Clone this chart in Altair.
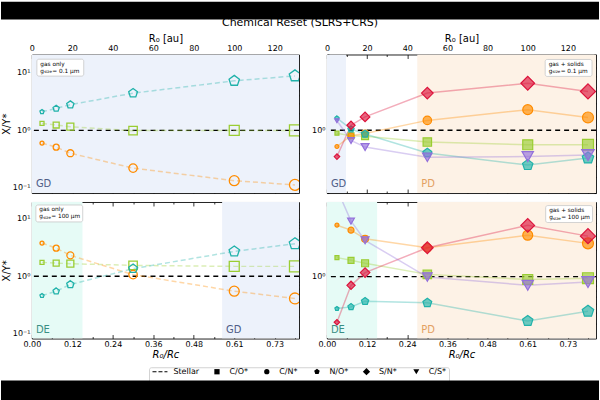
import altair as alt
import pandas as pd

# radial positions of the sampled parcels [au] and the critical radius
R0_AU = [5, 12, 19, 50, 100, 130]
RC_AU = 165
MARKER_AREA = [16, 36, 49, 72, 100, 121]

SPECIES = ["C/O*", "C/N*", "N/O*", "S/N*", "C/S*"]
COLORS = ["#9acd32", "#ff8c00", "#20b2aa", "#dc143c", "#9370db"]
PENTAGON = "M0,-1L0.951,-0.309L0.588,0.809L-0.588,0.809L-0.951,-0.309Z"
SHAPES = ["square", "circle", PENTAGON, "diamond", "triangle-down"]
AREA_FACTOR = [1.0, 1.0, 1.2, 1.9, 1.3]

# gas only, grain size 0.1 um
gas_small_CO = [1.32, 1.24, 1.16, 0.99, 1.0, 1.0]
gas_small_CN = [0.60, 0.51, 0.40, 0.22, 0.133, 0.112]
gas_small_NO = [2.11, 2.41, 2.8, 4.45, 7.3, 8.9]

# gas + solids, grain size 0.1 um
sol_small_CO = [0.93, 0.87, 0.86, 0.74, 0.69, 0.69]
sol_small_CN = [0.66, 0.87, 0.92, 1.29, 1.70, 1.39]
sol_small_NO = [1.37, 1.03, 0.91, 0.56, 0.41, 0.49]
sol_small_SN = [0.51, 1.14, 1.41, 2.6, 3.35, 2.71]
sol_small_CS = [1.28, 0.77, 0.65, 0.50, 0.51, 0.53]

# gas only, grain size 100 um
gas_big_CO = [1.75, 1.70, 1.66, 1.55, 1.49, 1.49]
gas_big_CN = [3.8, 3.1, 2.32, 1.07, 0.55, 0.41]
gas_big_NO = [0.46, 0.55, 0.72, 1.36, 2.72, 3.7]

# gas + solids, grain size 100 um
sol_big_CO = [1.63, 1.52, 1.41, 1.06, 0.93, 0.96]
sol_big_CN = [3.75, 3.3, 2.64, 2.1, 2.9, 2.35]
sol_big_NO = [0.44, 0.46, 0.53, 0.51, 0.32, 0.41]
sol_big_SN = [0.31, 0.80, 1.11, 2.1, 3.73, 2.83]
sol_big_CS = [9.5, 4.16, 2.54, 0.99, 0.80, 0.87]

# shaded regimes: (start au, end au, label)
REGION_FILL = {"GD": "#edf2fb", "DE": "#e6fbf6", "PD": "#fdf2e6"}
REGION_TEXT = {"GD": "#4f5d87", "DE": "#3a8f84", "PD": "#e3a062"}
regions_tl = [(0, 140, "GD")]
regions_tr = [(0, 9.5, "GD"), (45, 140, "PD")]
regions_bl = [(0, 25, "DE"), (94, 140, "GD")]
regions_br = [(0, 25, "DE"), (45, 140, "PD")]

FONT = "DejaVu Sans"
ONE = pd.DataFrame({"ax": [10.0], "ay": [1.0]})


def ratio_table(series):
    rows = []
    for sp, vals in series.items():
        k = SPECIES.index(sp)
        for r, v, a in zip(R0_AU, vals, MARKER_AREA):
            rows.append({"R0": r, "ratio": v, "species": sp, "area": a * AREA_FACTOR[k]})
    return pd.DataFrame(rows)


def axis(orient, values, tick, labels, title=None, expr=None, italic=False):
    kw = dict(orient=orient, values=values, tickSize=tick, offset=-tick, domain=False,
              grid=False, ticks=True, tickColor="black", tickWidth=0.8, labels=labels,
              labelFont=FONT, labelFontSize=8, labelColor="black", labelPadding=2,
              labelFlush=False, labelOverlap=False, title=title)
    if expr:
        kw["labelExpr"] = expr
    if title:
        kw.update(titleFont=FONT, titleFontSize=10, titleFontWeight="normal",
                  titleColor="black", titlePadding=1)
        if italic:
            kw["titleFontStyle"] = "italic"
    return alt.Axis(**kw)


def pixel_text(text, x, y, size, **kw):
    return alt.Chart(ONE).mark_text(text=text, fontSize=size, font=FONT, **kw).encode(
        x=alt.value(x), y=alt.value(y))


def pixel_rect(x0, x1, y0, y1, **kw):
    return alt.Chart(ONE).mark_rect(**kw).encode(
        x=alt.value(x0), x2=alt.value(x1), y=alt.value(y0), y2=alt.value(y1))


def note(x0, y0, head, grain):
    parts = [
        pixel_rect(x0, x0 + 47, y0, y0 + 17, fill="white", stroke="#c8c8c8",
                   strokeWidth=0.8, cornerRadius=2),
        pixel_text(head, x0 + 3.5, y0 + 4.5, 5.8, align="left", baseline="middle", color="black"),
        pixel_text("g", x0 + 3.5, y0 + 11.5, 5.8, align="left", baseline="middle", color="black"),
        pixel_text("size", x0 + 7.3, y0 + 13, 4.0, align="left", baseline="middle", color="black"),
        pixel_text("= " + grain, x0 + 15.5, y0 + 11.5, 5.8, align="left", baseline="middle",
                   color="black"),
    ]
    return parts


def panel(series, solids, xmax, ydom, width, height, top, left, regions, head, grain, extra=()):
    df = ratio_table(series)
    xsc = alt.Scale(domain=[0, xmax], nice=False, zero=False)
    ysc = alt.Scale(type="log", domain=ydom, nice=False)
    csc = alt.Scale(domain=SPECIES, range=COLORS)
    ssc = alt.Scale(domain=SPECIES, range=SHAPES)

    reg = pd.DataFrame([{"start": a, "end": b, "tag": t, "fill": REGION_FILL[t],
                         "ink": REGION_TEXT[t]} for a, b, t in regions])

    bg = alt.Chart(reg).mark_rect(clip=True).encode(
        x=alt.X("start:Q", scale=xsc, axis=None), x2="end:Q",
        y=alt.value(0), y2=alt.value(height),
        color=alt.Color("fill:N", scale=None))

    tags = alt.Chart(reg).mark_text(align="left", baseline="middle", fontSize=10, dx=4,
                                    font=FONT).encode(
        x=alt.X("start:Q", scale=xsc, axis=None), y=alt.value(height - 9),
        text="tag:N", color=alt.Color("ink:N", scale=None))

    stellar = alt.Chart(ONE).mark_rule(color="black", strokeDash=[5, 4], strokeWidth=1.4).encode(
        y=alt.YDatum(1.0, scale=ysc, axis=None))

    line_kw = dict(strokeWidth=1.5, opacity=0.35, clip=True)
    if not solids:
        line_kw["strokeDash"] = [5, 3]
    lines = alt.Chart(df).mark_line(**line_kw).encode(
        x=alt.X("R0:Q", scale=xsc, axis=None),
        y=alt.Y("ratio:Q", scale=ysc, axis=None),
        color=alt.Color("species:N", scale=csc, legend=None),
        detail="species:N", order="R0:Q")

    if solids:
        pts = alt.Chart(df).mark_point(filled=True, opacity=1, fillOpacity=0.65, strokeOpacity=1,
                                       strokeWidth=1.2, clip=True).encode(
            fill=alt.Fill("species:N", scale=csc, legend=None),
            stroke=alt.Stroke("species:N", scale=csc, legend=None),
            x=alt.X("R0:Q", scale=xsc, axis=None),
            y=alt.Y("ratio:Q", scale=ysc, axis=None),
            shape=alt.Shape("species:N", scale=ssc, legend=None),
            size=alt.Size("area:Q", scale=None, legend=None))
    else:
        pts = alt.Chart(df).mark_point(filled=False, opacity=1, strokeWidth=1.3, clip=True).encode(
            color=alt.Color("species:N", scale=csc, legend=None),
            x=alt.X("R0:Q", scale=xsc, axis=None),
            y=alt.Y("ratio:Q", scale=ysc, axis=None),
            shape=alt.Shape("species:N", scale=ssc, legend=None),
            size=alt.Size("area:Q", scale=None, legend=None))

    lo, hi = ydom
    decades = [v for v in [0.1, 1, 10] if lo <= v <= hi]
    minors = [v for v in [0.09] + [i / 10 for i in range(2, 10)] + list(range(2, 10)) + [20]
              if lo <= v <= hi]
    xmaj = [v for v in range(0, 121, 20) if v <= xmax]
    xmin = [v for v in range(10, 140, 20) if v <= xmax]
    yexpr = "datum.value >= 9 ? '10¹' : datum.value >= 0.9 ? '10⁰' : '10⁻¹'"
    xexpr = "format(datum.value / %d, '.2f')" % RC_AU

    def axis_layer(xa, ya):
        return alt.Chart(ONE).mark_point(opacity=0).encode(
            x=alt.X("ax:Q", scale=xsc, axis=xa), y=alt.Y("ay:Q", scale=ysc, axis=ya))

    axes = [
        axis_layer(axis("top", xmaj, 4, top, "R₀ [au]" if top else None),
                   axis("left", decades, 4, True, "X/Y*" if left else None, yexpr)),
        axis_layer(axis("top", xmin, 2, False), axis("left", minors, 2, False)),
        axis_layer(axis("bottom", xmaj, 4, not top, None if top else "R₀/Rc", xexpr, italic=True),
                   axis("right", decades, 4, False)),
        axis_layer(axis("bottom", xmin, 2, False), axis("right", minors, 2, False)),
    ]

    layers = [bg, stellar, lines, pts, tags] + note(*head) if False else None
    layers = [bg, tags, stellar, lines, pts] + note(head[0], head[1], head[2], grain) + list(extra) + axes
    return alt.layer(*layers).resolve_axis(x="independent", y="independent").properties(
        width=width, height=height)


# figure title with the page-edge band above it (drawn in the top-left panel frame)
title_parts = [
    pixel_text("Chemical Reset (SLRS+CRS)", 269, -29, 11, align="center", baseline="alphabetic",
               color="black"),
    pixel_rect(-31, 569, -53, -35, fill="black"),
]

# legend row and lower band (drawn in the bottom-left panel frame)
LEG_Y = 170.3
legend_parts = [
    pixel_rect(118, 419, 166.3, 184, fill="white", stroke="#c8c8c8", strokeWidth=0.8,
               cornerRadius=2),
    alt.Chart(ONE).mark_rule(color="black", strokeDash=[4, 2], strokeWidth=1.2).encode(
        x=alt.value(121), x2=alt.value(136), y=alt.value(LEG_Y)),
    pixel_text("Stellar", 142, LEG_Y, 8, align="left", baseline="middle", color="black"),
]
LEG_X = [185.7, 235.7, 286, 335.7, 385.7]
for k, sp in enumerate(SPECIES):
    legend_parts.append(
        alt.Chart(ONE).mark_point(filled=True, opacity=1, color="black", shape=SHAPES[k],
                                  size=28 * AREA_FACTOR[k]).encode(
            x=alt.value(LEG_X[k]), y=alt.value(LEG_Y)))
    legend_parts.append(pixel_text(sp, LEG_X[k] + 12.5, LEG_Y, 8, align="left",
                                   baseline="middle", color="black"))
legend_parts.append(pixel_rect(-31, 569, 179, 200, fill="black"))

tl = panel({"C/O*": gas_small_CO, "C/N*": gas_small_CN, "N/O*": gas_small_NO},
           False, 132, [0.081, 21], 268, 139, True, True, regions_tl,
           (5, 4.7, "gas only"), "0.1 μm", title_parts)
tr = panel({"C/O*": sol_small_CO, "C/N*": sol_small_CN, "N/O*": sol_small_NO,
            "S/N*": sol_small_SN, "C/S*": sol_small_CS},
           True, 134, [0.2, 7.0], 270, 139, True, False, regions_tr,
           (219, 5, "gas + solids"), "0.1 μm")
bl = panel({"C/O*": gas_big_CO, "C/N*": gas_big_CN, "N/O*": gas_big_NO},
           False, 132, [0.082, 19.8], 268, 137, False, True, regions_bl,
           (4, 3, "gas only"), "100 μm", legend_parts)
br = panel({"C/O*": sol_big_CO, "C/N*": sol_big_CN, "N/O*": sol_big_NO,
            "S/N*": sol_big_SN, "C/S*": sol_big_CS},
           True, 134, [0.204, 6.8], 270, 137, False, False, regions_br,
           (219.5, 3.6, "gas + solids"), "100 μm")

chart = alt.concat(tl, tr, bl, br, columns=2, spacing={"row": 9, "column": 28},
                   bounds="flush").properties(padding=0).configure_view(
    stroke="#222222", strokeWidth=1)

chart.save("out.html", embed_options={"renderer": "svg", "actions": False})
